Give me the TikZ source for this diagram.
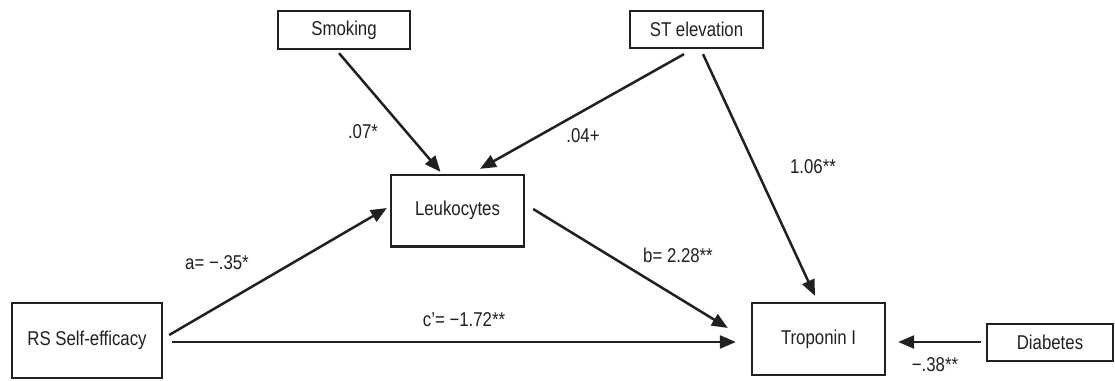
\documentclass[tikz,border=0pt]{standalone}
\usepackage{fontspec}
\setmainfont{Liberation Sans}[FakeStretch=0.84]
\usetikzlibrary{arrows.meta,calc}
\definecolor{ink}{HTML}{231F20}
\tikzset{
  varbox/.style={draw=ink, line width=2.3pt, inner sep=0pt, text=ink,
    font=\fontsize{20}{24}\selectfont},
  lbl/.style={inner sep=0pt, text=ink, font=\fontsize{20}{24}\selectfont},
  path/.style={draw=ink, line width=2.5pt,
    -{Triangle[length=16pt,width=13pt]}},
}
\begin{document}
\begin{tikzpicture}[x=1pt,y=-1pt]
\useasboundingbox (0,0) rectangle (1115,380);
% boxes
\node[varbox, minimum width=132pt, minimum height=38pt] (smoking) at (344,30) {Smoking};
\node[varbox, minimum width=133pt, minimum height=37pt] (st) at (696.5,29.5) {ST elevation};
\node[varbox, minimum width=133pt, minimum height=71.5pt] (leuk) at (457.5,210.75) {Leukocytes};
\node[varbox, minimum width=150pt, minimum height=75pt] (rs) at (87,340.5) {RS Self-efficacy};
\node[varbox, minimum width=133pt, minimum height=72pt] (trop) at (818.5,339) {Troponin I};
\node[varbox, minimum width=126pt, minimum height=37pt] (diab) at (1050,342.5) {Diabetes};
% connectors
\draw[path] ($(smoking.south)+(-5,3)$) -- ($(leuk.north)+(-17,-2)$);
\draw[path] ($(st.south)+(-12.5,5)$) -- ($(leuk.north)+(22.5,-5)$);
\draw[path] ($(st.south)+(6.5,5)$) -- ($(trop.north)+(-3.5,-6)$);
\draw[path] ($(rs.east)+(6,-5.5)$) -- ($(leuk.west)+(-3,-2.75)$);
\draw[path] ($(rs.east)+(9,1.5)$) -- ($(trop.west)+(-15,3)$);
\draw[path] ($(leuk.east)+(8,-1.75)$) -- ($(trop.west)+(-23,-11)$);
\draw[path] ($(diab.west)+(-5,-0.5)$) -- ($(trop.east)+(12,3)$);
% labels
\node[lbl] (l07) at (363,132) {.07*};
\node[lbl] (l04) at (583,136) {.04+};
\node[lbl] (l106) at (813,167) {1.06**};
\node[lbl] (la) at (217,263) {a= −.35*};
\node[lbl] (lc) at (464,320) {c’= −1.72**};
\node[lbl] (lb) at (678,255) {b= 2.28**};
\node[lbl] (l38) at (935,365) {−.38**};
\end{tikzpicture}
\end{document}
